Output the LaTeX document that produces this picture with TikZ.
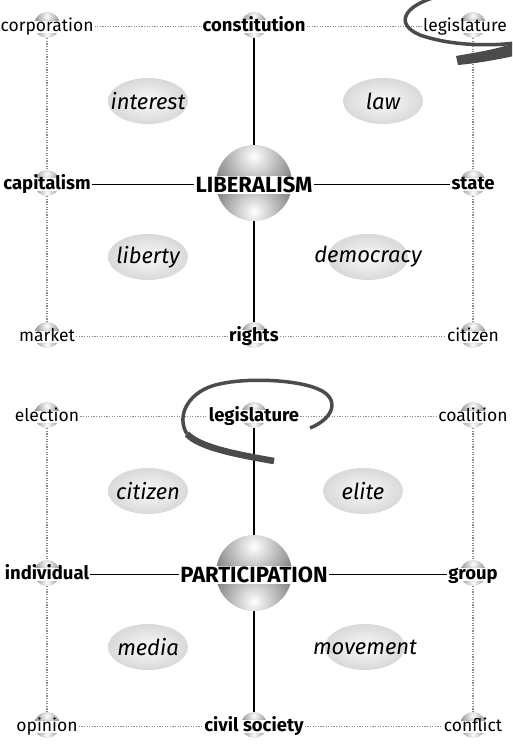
\documentclass[tikz,border=0pt]{standalone}
\usepackage{fontspec}
\setmainfont{Fira Sans}
\usetikzlibrary{shapes.geometric}
\definecolor{mygray}{RGB}{75,75,75}
\definecolor{mydot}{RGB}{140,140,140}
\definecolor{myshade}{RGB}{115,115,115}

\begin{document}
\begin{tikzpicture}[x=1pt, y=-1pt,
  sphere/.style={circle, inner sep=0pt, minimum size=2*#1,
    path picture={
      \begin{scope}
        \clip (path picture bounding box.north west) rectangle (path picture bounding box.east);
        \shade[inner color=white, outer color=myshade]
          ([yshift=0.7*#1]path picture bounding box.center) circle (1.25*#1);
      \end{scope}
      \begin{scope}
        \clip (path picture bounding box.west) rectangle (path picture bounding box.south east);
        \shade[inner color=white, outer color=myshade]
          ([yshift=-0.75*#1]path picture bounding box.center) circle (1.2*#1);
      \end{scope}}},
  lab/.style={fill=white, inner xsep=1pt, inner ysep=1.5pt, text height=9pt, text depth=0pt,
    yshift=-1.5pt, font=\fontsize{17.5}{20}\selectfont},
  key/.style={lab, text height=10pt, font=\fontsize{18.5}{21}\selectfont\bfseries},
  hub/.style={lab, text height=15pt, font=\fontsize{22}{25}\selectfont\bfseries},
  topic/.style={ellipse, shade, inner color=gray!4, outer color=gray!30,
    inner xsep=-60pt, inner ysep=-20pt, minimum width=80pt, minimum height=46pt,
    font=\fontsize{22}{25}\selectfont\itshape},
  link/.style={line width=1.6pt},
  dotlink/.style={draw=mydot, line width=1.2pt, dash pattern=on 1.2pt off 1.4pt},
  brush/.style={draw=mygray, line width=3.5pt}]
  \useasboundingbox (0,0) rectangle (512,744);
  \clip (0,0) rectangle (512,744);

  % LIBERALISM panel
  \foreach \n/\x/\y in {corp/47/25, cons/254/25, legi/473/25, capi/47/183,
                        stat/473/183, mark/47/335, righ/254/335, citi/473/335}
    \node[sphere=13pt] (s-\n) at (\x,\y) {};
  \node[sphere=38pt] (s-lib) at (254,183) {};
  \foreach \n/\s/\t in {corp/lab/corporation, cons/key/constitution, capi/key/capitalism,
                        stat/key/state, mark/lab/market, righ/key/rights, citi/lab/citizen}
    \node[\s] (\n) at (s-\n) {\t};
  \node[lab] (legi) at ([xshift=-8pt]s-legi) {legislature};
  \node[hub] (lib) at (s-lib) {LIBERALISM};
  \foreach \n/\x/\y in {interest/148/101, law/383/101, liberty/148/257, democracy/368/257}
    \node[topic] (t-\n) at (\x,\y) {\n};

  \draw[dotlink] (corp) -- (cons) (cons) -- (legi) (mark) -- (righ) (righ) -- (citi);
  \draw[dotlink] (s-corp) -- (s-capi) (s-capi) -- (s-mark)
                 (s-legi) -- (s-stat) (s-stat) -- (s-citi);
  \draw[link] (capi) -- (lib) (lib) -- (stat) (s-cons) -- (s-lib) (s-lib) -- (s-righ);

  % PARTICIPATION panel
  \foreach \n/\x/\y in {elec/47/415, legb/254/415, coal/473/415, indi/47/573,
                        grou/473/573, opin/47/725, civi/254/725, conf/473/725}
    \node[sphere=13pt] (s-\n) at (\x,\y) {};
  \node[sphere=38pt] (s-par) at (254,573) {};
  \foreach \n/\s/\t in {elec/lab/election, legb/key/legislature, coal/lab/coalition,
                        indi/key/individual, grou/key/group, opin/lab/opinion,
                        civi/key/civil society, conf/lab/conflict}
    \node[\s] (\n) at (s-\n) {\t};
  \node[hub] (par) at (s-par) {PARTICIPATION};
  \foreach \n/\x/\y in {citizen/148/491, elite/363/491, media/148/647, movement/365/647}
    \node[topic] (t-\n) at (\x,\y) {\n};

  \draw[dotlink] (elec) -- (legb) (legb) -- (coal) (opin) -- (civi) (civi) -- (conf);
  \draw[dotlink] (s-elec) -- (s-indi) (s-indi) -- (s-opin)
                 (s-coal) -- (s-grou) (s-grou) -- (s-conf);
  \draw[link] (indi) -- (par) (par) -- (grou) (s-legb) -- (s-par) (s-par) -- (s-civi);

  % hand-drawn loops
  \draw[brush] (436,-3) .. controls (404,6) and (394,24) .. (420,35)
    .. controls (445,44) and (482,47) .. (515,43);
  \fill[mygray] (514,43) .. controls (495,50) and (472,53) .. (456,56)
    -- (458,65) .. controls (480,63) and (500,59) .. (514,56) -- cycle;
  \draw[brush] (310,428) .. controls (335,418) and (340,398) .. (318,389)
    .. controls (295,379) and (240,377) .. (212,386)
    .. controls (188,394) and (176,416) .. (187,434);
  \draw[brush, line width=6.5pt] (187,434) .. controls (200,448) and (240,455) .. (274,461);
\end{tikzpicture}
\end{document}
